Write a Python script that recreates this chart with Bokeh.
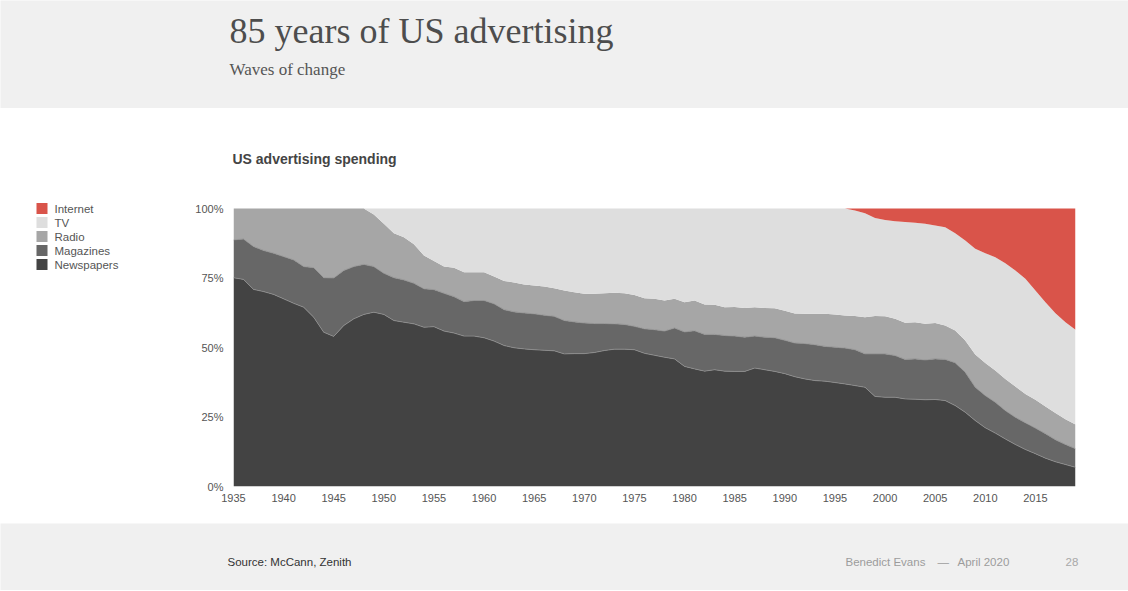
from bokeh.plotting import figure
from bokeh.models import ColumnDataSource, Range1d, FixedTicker, PrintfTickFormatter
from bokeh.layouts import column, row
from bokeh.core.properties import value
from bokeh.embed import file_html
from bokeh.resources import INLINE

# ---------------- data (share of US ad spending, %) ----------------
years = list(range(1935, 2020))

newspapers = [75.1, 74.5, 70.9, 70.1, 69.1, 67.5, 65.9, 64.5, 60.9, 55.5,
              54.0, 57.9, 60.3, 61.9, 62.7, 61.9, 59.7, 59.1, 58.5, 57.3,
              57.5, 55.9, 55.2, 54.1, 54.1, 53.5, 52.3, 50.7, 49.9, 49.5,
              49.2, 49.0, 48.8, 47.7, 47.8, 47.8, 48.2, 48.9, 49.4, 49.4,
              49.2, 47.9, 47.2, 46.5, 45.9, 43.2, 42.3, 41.5, 42.0, 41.5,
              41.4, 41.4, 42.6, 42.0, 41.4, 40.6, 39.5, 38.7, 38.1, 37.9,
              37.4, 36.9, 36.3, 35.7, 32.4, 32.1, 32.1, 31.5, 31.4, 31.2,
              31.3, 30.9, 29.1, 26.7, 23.7, 21.1, 19.2, 17.1, 15.1, 13.3,
              11.8, 10.2, 8.9, 7.9, 6.9]

magazines = [13.6, 14.5, 15.4, 14.8, 14.8, 15.2, 15.6, 14.6, 17.8, 19.6,
             21.0, 19.8, 18.8, 18.0, 16.4, 14.8, 15.4, 15.2, 14.6, 13.8,
             13.3, 13.6, 13.1, 12.4, 12.8, 13.4, 13.4, 12.9, 12.9, 12.9,
             12.9, 12.6, 12.4, 12.0, 11.4, 11.0, 10.4, 9.7, 9.1, 8.9,
             8.4, 8.8, 9.2, 9.4, 11.1, 12.4, 13.7, 13.2, 12.7, 12.8,
             12.7, 12.3, 11.5, 11.7, 12.1, 12.0, 12.1, 12.7, 12.9, 12.5,
             12.7, 12.9, 12.9, 12.0, 15.3, 15.6, 15.0, 14.2, 14.5, 14.3,
             14.6, 14.8, 15.4, 14.4, 12.0, 11.6, 11.1, 10.2, 9.8, 9.6,
             9.2, 8.8, 7.9, 7.2, 6.7]

radio = [11.3, 11.0, 13.7, 15.1, 16.1, 17.3, 18.5, 20.9, 21.3, 24.9,
         25.0, 22.3, 20.9, 20.1, 18.7, 17.8, 16.0, 15.4, 14.0, 12.0,
         10.3, 9.6, 10.4, 10.6, 10.2, 10.2, 9.8, 10.3, 10.6, 10.3,
         10.2, 10.3, 10.1, 10.8, 10.7, 10.5, 10.7, 10.9, 11.2, 11.2,
         11.3, 11.0, 11.1, 11.0, 10.5, 10.7, 10.9, 10.8, 10.7, 10.2,
         10.5, 10.5, 10.4, 10.5, 10.6, 10.6, 10.6, 10.7, 11.1, 11.7,
         11.8, 11.7, 12.1, 13.2, 13.6, 13.5, 13.2, 13.2, 13.2, 13.0,
         12.9, 12.2, 11.6, 11.4, 11.8, 11.7, 11.4, 11.4, 11.1, 10.4,
         10.2, 9.8, 9.6, 9.1, 8.7]

tv = [0.0, 0.0, 0.0, 0.0, 0.0, 0.0, 0.0, 0.0, 0.0, 0.0,
      0.0, 0.0, 0.0, 0.0, 2.2, 5.5, 8.9, 10.3, 12.9, 16.9,
      18.9, 20.9, 21.3, 22.9, 22.9, 22.9, 24.5, 26.1, 26.6, 27.3,
      27.7, 28.1, 28.7, 29.5, 30.1, 30.7, 30.7, 30.5, 30.3, 30.5,
      31.1, 32.3, 32.5, 33.1, 32.5, 33.7, 33.1, 34.5, 34.6, 35.5,
      35.4, 35.8, 35.5, 35.8, 35.9, 36.8, 37.8, 37.9, 37.9, 37.9,
      38.1, 38.5, 38.0, 37.4, 35.3, 34.7, 35.1, 36.2, 35.8, 36.0,
      35.1, 35.4, 35.0, 36.0, 38.0, 39.5, 40.8, 41.6, 41.7, 41.4,
      39.3, 37.5, 35.9, 34.9, 34.1]

internet = [0.0] * 62 + [0.7, 1.7, 3.4, 4.1, 4.6, 4.9, 5.1, 5.5, 6.1, 6.7,
                         8.9, 11.5, 14.5, 16.1, 17.5, 19.7, 22.3, 25.3, 29.5,
                         33.7, 37.7, 40.9, 43.6]

series_names = ["Newspapers", "Magazines", "Radio", "TV", "Internet"]
series_colors = ["#434343", "#676767", "#a6a6a6", "#dedede", "#d9544a"]
x_ticks = list(range(1935, 2016, 5))
y_ticks = [0, 25, 50, 75, 100]

title_text = "85 years of US advertising"
subtitle_text = "Waves of change"
chart_title = "US advertising spending"
source_text = "Source: McCann, Zenith"
credit_name = "Benedict Evans"
credit_dash = "\u2014"
credit_date = "April 2020"
page_text = "28"

SANS = "Liberation Sans"
SERIF = "Liberation Serif"
GREY_BG = "#f0f0f0"

W = 1128
LW = 183          # legend column width
RH = 333          # height of the legend + chart row
BOTTOM = 37       # space below the plotting frame (x tick labels)
FRAME_H = RH - BOTTOM
PLOT_H = 278      # pixel height of 0..100 %


def deco(w, h, fill, bottom=0):
    f = figure(width=w, height=h, x_range=Range1d(0, w),
               y_range=Range1d(h - bottom, 0),
               output_backend="svg", toolbar_location=None, title=None,
               x_axis_location=None, y_axis_location=None,
               min_border=0, min_border_bottom=bottom,
               background_fill_color=fill, border_fill_color=fill,
               outline_line_color=None)
    f.xgrid.visible = False
    f.ygrid.visible = False
    return f


# ---------------- header band ----------------
header = deco(W, 108, GREY_BG)
header.text(x=[229], y=[30.5], text=[title_text], text_font=value(SERIF),
            text_font_size="36px", text_color="#4d4d4d",
            text_baseline="middle", text_align="left")
header.text(x=[229], y=[68.5], text=[subtitle_text], text_font=value(SERIF),
            text_font_size="17px", text_color="#555555",
            text_baseline="middle", text_align="left")

# ---------------- chart title band ----------------
mid = deco(W, 82, "#ffffff")
mid.text(x=[232], y=[50], text=[chart_title], text_font=value(SANS),
         text_font_size="14px", text_font_style="bold", text_color="#444444",
         text_baseline="middle", text_align="left")

# ---------------- legend ----------------
leg = deco(LW, RH, "#ffffff", bottom=BOTTOM)
legend_order = ["Internet", "TV", "Radio", "Magazines", "Newspapers"]
legend_cols = [series_colors[series_names.index(n)] for n in legend_order]
leg_y = [18 + 14 * i for i in range(len(legend_order))]
leg.rect(x=[41.5] * 5, y=leg_y, width=11, height=11, fill_color=legend_cols,
         line_color=None)
leg.text(x=[54] * 5, y=leg_y, text=legend_order, text_font=value(SANS),
         text_font_size="11.5px", text_color="#555555",
         text_baseline="middle", text_align="left")

# ---------------- chart ----------------
src = ColumnDataSource(dict(year=years, Newspapers=newspapers, Magazines=magazines,
                            Radio=radio, TV=tv, Internet=internet))

p = figure(width=W - LW, height=RH, x_range=Range1d(1935, 2019),
           y_range=Range1d(0, 100 * FRAME_H / PLOT_H), output_backend="svg",
           toolbar_location=None, title=None,
           min_border_left=50, min_border_right=53,
           min_border_top=0, min_border_bottom=BOTTOM, outline_line_color=None,
           background_fill_color="#ffffff", border_fill_color="#ffffff")

p.varea_stack(stackers=series_names, x="year", color=series_colors, source=src)
p.vline_stack(stackers=["Newspapers", "Magazines"], x="year",
              color=["#8e8e8e", "#8e8e8e"], line_width=0.8, source=src)

p.xgrid.visible = False
p.ygrid.visible = False
p.xaxis.ticker = FixedTicker(ticks=x_ticks)
p.yaxis.ticker = FixedTicker(ticks=y_ticks)
p.yaxis.formatter = PrintfTickFormatter(format="%d%%")
for ax in (p.xaxis[0], p.yaxis[0]):
    ax.axis_line_color = None
    ax.major_tick_line_color = None
    ax.minor_tick_line_color = None
    ax.major_tick_out = 0
    ax.major_tick_in = 0
    ax.minor_tick_out = 0
    ax.major_label_text_font = SANS
    ax.major_label_text_font_size = "11px"
    ax.major_label_text_color = "#555555"
p.yaxis.major_label_standoff = 10
p.xaxis.major_label_standoff = 7

# ---------------- footer band ----------------
footer = deco(W, 67, GREY_BG)
footer.text(x=[227], y=[38], text=[source_text], text_font=value(SANS),
            text_font_size="11.5px", text_color="#333333",
            text_baseline="middle", text_align="left")
footer.text(x=[845, 937, 957], y=[38, 38, 38],
            text=[credit_name, credit_dash, credit_date], text_font=value(SANS),
            text_font_size="11.5px", text_color="#9c9c9c",
            text_baseline="middle", text_align="left")
footer.text(x=[1065], y=[38], text=[page_text], text_font=value(SANS),
            text_font_size="11.5px", text_color="#a8a8a8",
            text_baseline="middle", text_align="left")

layout = column(header, mid, row(leg, p), footer)

with open("out.html", "w", encoding="utf-8") as fh:
    fh.write(file_html(layout, INLINE))
